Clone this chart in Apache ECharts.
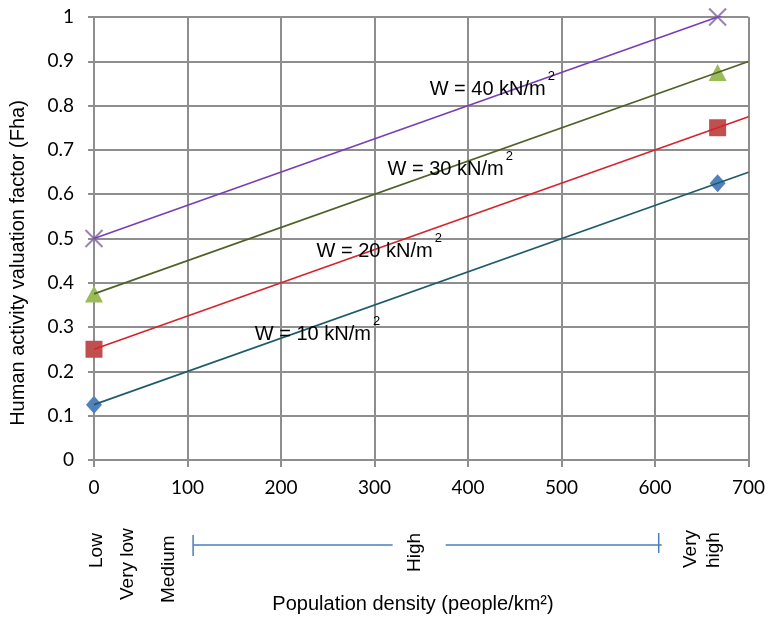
<!DOCTYPE html>
<html>
<head>
<meta charset="utf-8">
<script src="https://cdn.jsdelivr.net/npm/echarts@6/dist/echarts.min.js"></script>
<style>
  html, body { margin: 0; padding: 0; background: #ffffff; }
  #chart { width: 768px; height: 619px; }
</style>
</head>
<body>
<div id="chart"></div>
<script>
// Population density (people/km²) at which the factor is evaluated
const density = [0, 667];

// Human activity valuation factor (Fha) for each roof load
const fhaW10 = [0.125, 0.625];
const fhaW20 = [0.25, 0.75];
const fhaW30 = [0.375, 0.875];
const fhaW40 = [0.5, 1.0];

const loadLabels = ['W = 10 kN/m', 'W = 20 kN/m', 'W = 30 kN/m', 'W = 40 kN/m'];

// Axis ranges / tick steps
const xRange = [0, 700];
const xStep = 100;
const yRange = [0, 1];
const yStep = 0.1;

// Density classes written under the axis
const classLabels = ['Low', 'Very low', 'Medium', 'High', 'Very\nhigh'];
const classDensity = [3, 36, 80, 343, 651];
const highBand = [106, 604];

const FONT_SANS = '"Liberation Sans", Arial, sans-serif';
const FONT_TICK = 'Lato, "Open Sans", sans-serif';

const seriesStyle = [
  { line: '#1F5C6B', marker: '#4F81BD', symbol: 'diamond', size: [16, 18] },
  { line: '#D6232C', marker: '#C0504D', symbol: 'rect', size: [17, 17] },
  { line: '#4F6228', marker: '#9BBB59', symbol: 'triangle', size: [18, 17] },
  { line: '#7A3DB8', marker: '#8064A2', symbol: 'path://M0,0L10,10M10,0L0,10', size: [17, 17] }
];

// where each "W = .. kN/m²" tag sits, in data units (left edge, middle)
const tagAnchor = [[172, 0.284], [238, 0.47], [314, 0.655], [359, 0.8375]];

const fhaSets = [fhaW10, fhaW20, fhaW30, fhaW40];

// straight trend through the points, carried on to the end of the axis
function trendLine(ys) {
  const n = density.length;
  const mx = density.reduce((a, b) => a + b, 0) / n;
  const my = ys.reduce((a, b) => a + b, 0) / n;
  let sxy = 0, sxx = 0;
  for (let i = 0; i < n; i++) {
    sxy += (density[i] - mx) * (ys[i] - my);
    sxx += (density[i] - mx) * (density[i] - mx);
  }
  const k = sxy / sxx;
  const b = my - k * mx;
  return [[xRange[0], b + k * xRange[0]], [xRange[1], b + k * xRange[1]]];
}

const series = [];
fhaSets.forEach((ys, i) => {
  const st = seriesStyle[i];
  const isCross = st.symbol.indexOf('path://') === 0;
  series.push({
    type: 'scatter',
    name: loadLabels[i] + '²',
    data: density.map((x, j) => [x, ys[j]]),
    symbol: st.symbol,
    symbolSize: st.size,
    itemStyle: isCross
      ? { color: 'rgba(0,0,0,0)', borderColor: st.marker, borderWidth: 2 }
      : { color: st.marker, opacity: 1 },
    z: 3,
    silent: true
  });
});
fhaSets.forEach((ys, i) => {
  series.push({
    type: 'line',
    data: trendLine(ys),
    showSymbol: false,
    symbol: 'none',
    clip: true,
    lineStyle: { color: seriesStyle[i].line, width: 1.6 },
    z: 4,
    silent: true
  });
});

const gridColor = '#8E8E8E';

const chart = echarts.init(document.getElementById('chart'), null, { renderer: 'canvas' });
chart.setOption({
  animation: false,
  backgroundColor: '#ffffff',
  grid: { left: 94, right: 19, top: 17, bottom: 159, containLabel: false },
  xAxis: {
    type: 'value',
    min: xRange[0], max: xRange[1], interval: xStep,
    axisLine: { show: true, lineStyle: { color: gridColor, width: 2 } },
    axisTick: { show: true, length: 7, lineStyle: { color: gridColor, width: 2 } },
    splitLine: { show: true, lineStyle: { color: gridColor, width: 2 } },
    axisLabel: { color: '#000', fontFamily: FONT_TICK, fontSize: 19, margin: 18 }
  },
  yAxis: {
    type: 'value',
    min: yRange[0], max: yRange[1], interval: yStep,
    axisLine: { show: true, lineStyle: { color: gridColor, width: 2 } },
    axisTick: { show: true, length: 6, lineStyle: { color: gridColor, width: 2 } },
    splitLine: { show: true, lineStyle: { color: gridColor, width: 2 } },
    axisLabel: {
      color: '#000', fontFamily: FONT_TICK, fontSize: 19, margin: 20,
      formatter: v => String(Math.round(v * 10) / 10)
    }
  },
  series: series
});

// text width helper for placing the raised "2"
const measureCtx = document.createElement('canvas').getContext('2d');
function textWidth(str, size) {
  measureCtx.font = size + 'px ' + FONT_SANS;
  return measureCtx.measureText(str).width;
}

function txt(x, y, text, size, opts) {
  opts = opts || {};
  return {
    type: 'text', x: x, y: y, rotation: opts.rotation || 0, silent: true, z: 10,
    style: {
      text: text, fill: '#000', fontSize: size, fontFamily: opts.family || FONT_SANS,
      align: opts.align || 'left', verticalAlign: opts.valign || 'middle',
      textAlign: opts.align || 'left', textVerticalAlign: opts.valign || 'middle',
      lineHeight: opts.lineHeight
    }
  };
}

function drawAnnotations() {
  const px = p => chart.convertToPixel({ gridIndex: 0 }, p);
  const els = [];

  // W tags with raised superscript
  tagAnchor.forEach((a, i) => {
    const p = px(a);
    const w = textWidth(loadLabels[i], 20);
    els.push(txt(p[0], p[1], loadLabels[i], 20));
    els.push(txt(p[0] + w + 2, p[1] - 13, '2', 13));
  });

  // density classes, rotated to read upwards
  const classBase = [568, 600, 603, 572, 568];
  classLabels.forEach((label, i) => {
    const x = px([classDensity[i], 0])[0];
    els.push(txt(x, classBase[i], label, 19, { rotation: Math.PI / 2, align: 'left', valign: 'middle', lineHeight: 23 }));
  });

  // span of the "High" class
  const bandY = 545;
  const x0 = px([highBand[0], 0])[0];
  const x1 = px([highBand[1], 0])[0];
  const xh = px([classDensity[3], 0])[0];
  const blue = '#4A7EBB';
  const seg = (xa, xb, ya, yb) => ({
    type: 'line', silent: true, z: 9,
    shape: { x1: xa, y1: ya, x2: xb, y2: yb },
    style: { stroke: blue, lineWidth: 1.5 }
  });
  els.push(seg(x0, xh - 22, bandY, bandY));
  els.push(seg(xh + 31, x1 + 3, bandY, bandY));
  els.push(seg(x0, x0, bandY - 10, bandY + 11));
  els.push(seg(x1, x1, bandY - 12, bandY + 8));

  // axis titles
  els.push(txt(18, 263, 'Human activity valuation factor (Fha)', 20, { rotation: Math.PI / 2, align: 'center' }));
  els.push(txt(413, 604, 'Population density (people/km²)', 20, { align: 'center' }));

  chart.setOption({ graphic: { elements: els } });
}
drawAnnotations();
</script>
</body>
</html>
